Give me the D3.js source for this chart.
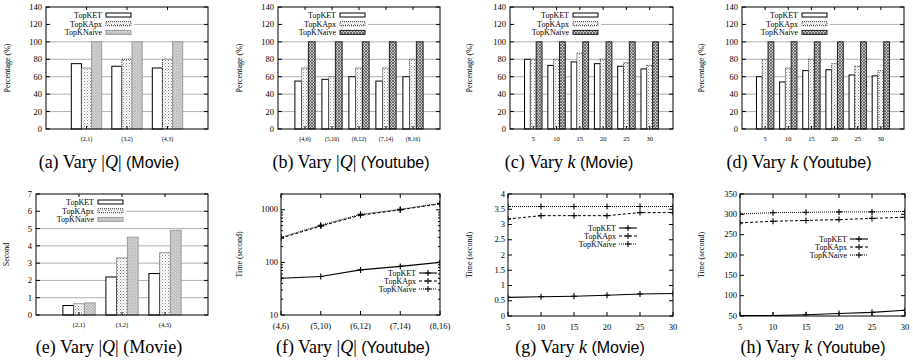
<!DOCTYPE html>
<html>
<head>
<meta charset="utf-8">
<script src="https://cdn.jsdelivr.net/npm/d3@7"></script>
<style>
  body { margin: 0; background: #fff; }
  svg { display: block; }
  text { font-family: "Liberation Serif", "Times New Roman", serif; fill: #000; }
  .tick-label { font-size: 8.5px; }
  .legend-text { font-size: 8px; }
  .axis-title { font-size: 8px; }
  .caption { font-size: 18px; }
</style>
</head>
<body>
<div id="chart"></div>
<script>
// ---- data ----
var seriesNames = ["TopKET", "TopKApx", "TopKNaive"];
var qMovie = ["(2,1)", "(3,2)", "(4,3)"];
var qYoutube = ["(4,6)", "(5,10)", "(6,12)", "(7,14)", "(8,16)"];
var kValues = [5, 10, 15, 20, 25, 30];

// (a) percentage, vary |Q|, Movie
var pctQMovieKET = [75, 72, 70];
var pctQMovieApx = [70, 80, 80];
var pctQMovieNaive = [100, 100, 100];
// (b) percentage, vary |Q|, Youtube
var pctQYoutubeKET = [55, 57, 60, 55, 60];
var pctQYoutubeApx = [70, 60, 70, 70, 80];
var pctQYoutubeNaive = [100, 100, 100, 100, 100];
// (c) percentage, vary k, Movie
var pctKMovieKET = [80, 73, 77, 75, 72, 69];
var pctKMovieApx = [80, 80, 87, 80, 76, 73];
var pctKMovieNaive = [100, 100, 100, 100, 100, 100];
// (d) percentage, vary k, Youtube
var pctKYoutubeKET = [60, 54, 67, 68, 62, 61];
var pctKYoutubeApx = [80, 70, 80, 75, 72, 67];
var pctKYoutubeNaive = [100, 100, 100, 100, 100, 100];
// (e) seconds, vary |Q|, Movie
var secQMovieKET = [0.55, 2.2, 2.4];
var secQMovieApx = [0.65, 3.3, 3.6];
var secQMovieNaive = [0.7, 4.5, 4.9];
// (f) time, vary |Q|, Youtube (log)
var timeQYoutubeKET = [50, 54, 72, 84, 100];
var timeQYoutubeApx = [290, 490, 790, 1000, 1300];
var timeQYoutubeNaive = [300, 510, 820, 1020, 1330];
// (g) time, vary k, Movie
var timeKMovieKET = [0.61, 0.63, 0.65, 0.68, 0.72, 0.74];
var timeKMovieApx = [3.18, 3.29, 3.29, 3.29, 3.39, 3.39];
var timeKMovieNaive = [3.59, 3.59, 3.59, 3.59, 3.59, 3.59];
// (h) time, vary k, Youtube
var timeKYoutubeKET = [51, 51, 53, 56, 59, 64];
var timeKYoutubeApx = [279, 283, 285, 287, 290, 293];
var timeKYoutubeNaive = [301, 304, 305, 306, 306, 307];

var pctTicks = [0, 20, 40, 60, 80, 100, 120, 140];
var secTicks = [0, 1, 2, 3, 4, 5, 6, 7];
var logTicks = [10, 100, 1000];
var movieKTicks = [0, 0.5, 1, 1.5, 2, 2.5, 3, 3.5, 4];
var youtubeKTicks = [50, 100, 150, 200, 250, 300, 350];

var svg = d3.select("#chart").append("svg")
  .attr("width", 913)
  .attr("height", 362)
  .attr("font-family", "'Liberation Serif', 'Times New Roman', serif");

// ---- fill patterns ----
var defs = svg.append("defs");

var apx = defs.append("pattern").attr("id", "apx")
  .attr("width", 3).attr("height", 3).attr("patternUnits", "userSpaceOnUse");
apx.append("rect").attr("width", 3).attr("height", 3).attr("fill", "#fff");
apx.append("rect").attr("x", 0).attr("y", 0).attr("width", 1).attr("height", 1).attr("fill", "#8a8a8a");
apx.append("rect").attr("x", 1.5).attr("y", 1.5).attr("width", 1).attr("height", 1).attr("fill", "#b0b0b0");

var naiveLight = defs.append("pattern").attr("id", "naiveLight")
  .attr("width", 3).attr("height", 3).attr("patternUnits", "userSpaceOnUse");
naiveLight.append("rect").attr("width", 3).attr("height", 3).attr("fill", "#d4d4d4");
naiveLight.append("path").attr("d", "M0,0L3,3M3,0L0,3").attr("stroke", "#b4b4b4").attr("stroke-width", 0.7);

var naiveDark = defs.append("pattern").attr("id", "naiveDark")
  .attr("width", 3).attr("height", 3).attr("patternUnits", "userSpaceOnUse");
naiveDark.append("rect").attr("width", 3).attr("height", 3).attr("fill", "#c8c8c8");
naiveDark.append("path").attr("d", "M0,0L3,3M3,0L0,3").attr("stroke", "#555").attr("stroke-width", 0.8);

var barStyles = [
  { fill: "#fff", stroke: "#000", dash: null },
  { fill: "url(#apx)", stroke: "#333", dash: "1,1" },
  { fill: null, stroke: "#888", dash: null }
];

function drawFrame(g, x0, x1, y0, y1) {
  g.append("rect")
    .attr("x", x0).attr("y", y0)
    .attr("width", x1 - x0).attr("height", y1 - y0)
    .attr("fill", "none").attr("stroke", "#000").attr("stroke-width", 1);
}

function caption(g, cx, cy, letter, vary, dataset, sans) {
  var t = g.append("text").attr("class", "caption")
    .attr("x", cx).attr("y", cy).attr("text-anchor", "middle");
  t.append("tspan").text("(" + letter + ") Vary ");
  if (vary === "Q") {
    t.append("tspan").text("|");
    t.append("tspan").attr("font-style", "italic").text("Q");
    t.append("tspan").text("| ");
  } else {
    t.append("tspan").attr("font-style", "italic").text("k");
    t.append("tspan").text(" ");
  }
  var ds = t.append("tspan").text("(" + dataset + ")");
  if (sans) ds.style("font-family", "'Liberation Sans', Arial, sans-serif").style("font-size", "16px");
}

function yTitle(g, x, y, label) {
  g.append("text").attr("class", "axis-title")
    .attr("transform", "translate(" + x + "," + y + ") rotate(-90)")
    .attr("text-anchor", "middle")
    .text(label);
}

function barPanel(opt) {
  var g = svg.append("g");
  var n = opt.categories.length;
  var x = d3.scaleLinear().domain([-1, n]).range([opt.x0, opt.x1]);
  var y = d3.scaleLinear().domain([opt.ticks[0], opt.ticks[opt.ticks.length - 1]]).range([opt.y1, opt.y0]);

  // grid lines
  g.selectAll(".grid").data(opt.ticks.slice(1, -1)).enter().append("line")
    .attr("x1", opt.x0).attr("x2", opt.x1)
    .attr("y1", function (d) { return y(d); }).attr("y2", function (d) { return y(d); })
    .attr("stroke", "#b0b0b0").attr("stroke-width", 1);

  // legend background covers the grid
  g.append("rect")
    .attr("x", opt.x0 + 1).attr("y", opt.y0 + 1)
    .attr("width", opt.legendX + 31 - opt.x0).attr("height", 29)
    .attr("fill", "#fff");

  // bars
  opt.values.forEach(function (vals, j) {
    var st = barStyles[j];
    g.selectAll(".bar" + j).data(vals).enter().append("rect")
      .attr("x", function (d, i) { return x(i + (j - 1.5) * 0.25); })
      .attr("width", x(0.25) - x(0))
      .attr("y", function (d) { return y(d); })
      .attr("height", function (d) { return y(opt.ticks[0]) - y(d); })
      .attr("fill", j === 2 ? "url(#" + opt.naivePattern + ")" : st.fill)
      .attr("stroke", j === 2 ? opt.naiveStroke : st.stroke)
      .attr("stroke-dasharray", st.dash)
      .attr("stroke-width", 1);
  });

  drawFrame(g, opt.x0, opt.x1, opt.y0, opt.y1);

  // y tick marks on both sides + labels
  opt.ticks.forEach(function (t) {
    g.append("line").attr("x1", opt.x0).attr("x2", opt.x0 + 4)
      .attr("y1", y(t)).attr("y2", y(t)).attr("stroke", "#000");
    g.append("line").attr("x1", opt.x1).attr("x2", opt.x1 - 4)
      .attr("y1", y(t)).attr("y2", y(t)).attr("stroke", "#000");
    g.append("text").attr("class", "tick-label")
      .attr("x", opt.x0 - 4).attr("y", y(t) + 3)
      .attr("text-anchor", "end").text(t);
  });

  // x tick marks + category labels
  opt.categories.forEach(function (c, i) {
    g.append("line").attr("x1", x(i)).attr("x2", x(i))
      .attr("y1", opt.y1).attr("y2", opt.y1 - 3).attr("stroke", "#000");
    g.append("line").attr("x1", x(i)).attr("x2", x(i))
      .attr("y1", opt.y0).attr("y2", opt.y0 + 3).attr("stroke", "#000");
    g.append("text").attr("class", "tick-label")
      .style("font-size", opt.xFont + "px")
      .attr("x", x(i)).attr("y", opt.y1 + 12)
      .attr("text-anchor", "middle").text(c);
  });

  // legend
  seriesNames.forEach(function (s, j) {
    var ly = opt.y0 + 8 + j * 8.7;
    var st = barStyles[j];
    g.append("text").attr("class", "legend-text")
      .attr("x", opt.legendX).attr("y", ly + 2.8)
      .attr("text-anchor", "end").text(s);
    g.append("rect")
      .attr("x", opt.legendX + 4).attr("y", ly - 2)
      .attr("width", 25).attr("height", 4)
      .attr("fill", j === 2 ? "url(#" + opt.naivePattern + ")" : st.fill)
      .attr("stroke", j === 2 ? opt.naiveStroke : st.stroke)
      .attr("stroke-dasharray", st.dash);
  });

  yTitle(g, opt.titleX, (opt.y0 + opt.y1) / 2, opt.yLabel);
  caption(g, opt.capX, opt.capY, opt.letter, opt.vary, opt.dataset, opt.sans);
}

var lineStyles = [
  { dash: null, width: 1.1 },
  { dash: "3,2", width: 1 },
  { dash: "1,1", width: 1 }
];

function linePanel(opt) {
  var g = svg.append("g");
  var x = opt.xPoint
    ? d3.scaleLinear().domain([0, opt.categories.length - 1]).range([opt.x0, opt.x1])
    : d3.scaleLinear().domain([opt.categories[0], opt.categories[opt.categories.length - 1]]).range([opt.x0, opt.x1]);
  var xVal = function (c, i) { return opt.xPoint ? x(i) : x(c); };
  var y = opt.log
    ? d3.scaleLog().domain(opt.yDomain).range([opt.y1, opt.y0])
    : d3.scaleLinear().domain(opt.yDomain).range([opt.y1, opt.y0]);

  var clip = "clip-" + opt.letter;
  g.append("clipPath").attr("id", clip).append("rect")
    .attr("x", opt.x0).attr("y", opt.y0).attr("width", opt.x1 - opt.x0).attr("height", opt.y1 - opt.y0);

  drawFrame(g, opt.x0, opt.x1, opt.y0, opt.y1);

  // y ticks mirrored
  opt.ticks.forEach(function (t) {
    g.append("line").attr("x1", opt.x0).attr("x2", opt.x0 + 4)
      .attr("y1", y(t)).attr("y2", y(t)).attr("stroke", "#000");
    g.append("line").attr("x1", opt.x1).attr("x2", opt.x1 - 4)
      .attr("y1", y(t)).attr("y2", y(t)).attr("stroke", "#000");
    g.append("text").attr("class", "tick-label")
      .attr("x", opt.x0 - 3).attr("y", y(t) + 2.5)
      .attr("text-anchor", "end").text(t);
  });
  if (opt.log) {
    var minor = [];
    for (var dec = 10; dec < opt.yDomain[1]; dec *= 10) {
      for (var m = 2; m <= 9; m++) if (dec * m <= opt.yDomain[1]) minor.push(dec * m);
    }
    minor.forEach(function (t) {
      g.append("line").attr("x1", opt.x0).attr("x2", opt.x0 + 2)
        .attr("y1", y(t)).attr("y2", y(t)).attr("stroke", "#000");
      g.append("line").attr("x1", opt.x1).attr("x2", opt.x1 - 2)
        .attr("y1", y(t)).attr("y2", y(t)).attr("stroke", "#000");
    });
  }

  // x ticks mirrored
  opt.categories.forEach(function (c, i) {
    var px = xVal(c, i);
    g.append("line").attr("x1", px).attr("x2", px)
      .attr("y1", opt.y1).attr("y2", opt.y1 - 4).attr("stroke", "#000");
    g.append("line").attr("x1", px).attr("x2", px)
      .attr("y1", opt.y0).attr("y2", opt.y0 + 4).attr("stroke", "#000");
    g.append("text").attr("class", "tick-label")
      .attr("x", px).attr("y", opt.y1 + 13.5)
      .attr("text-anchor", "middle").text(c);
  });

  // lines + "+" markers
  opt.values.forEach(function (vals, j) {
    var st = lineStyles[j];
    var line = d3.line()
      .x(function (d, i) { return xVal(opt.categories[i], i); })
      .y(function (d) { return y(d); });
    g.append("path").datum(vals)
      .attr("d", line)
      .attr("clip-path", "url(#" + clip + ")")
      .attr("fill", "none").attr("stroke", "#000")
      .attr("stroke-width", st.width)
      .attr("stroke-dasharray", st.dash);
    g.selectAll(".pt" + j).data(vals).enter().append("path")
      .attr("clip-path", "url(#" + clip + ")")
      .attr("d", function (d, i) {
        var px = xVal(opt.categories[i], i), py = y(d);
        return "M" + (px - 3) + "," + py + "H" + (px + 3) + "M" + px + "," + (py - 3) + "V" + (py + 3);
      })
      .attr("stroke", "#000").attr("stroke-width", 1.1);
  });

  // legend
  seriesNames.forEach(function (s, j) {
    var ly = opt.legendY + j * 8;
    var st = lineStyles[j];
    g.append("text").attr("class", "legend-text")
      .attr("x", opt.legendX).attr("y", ly + 2.8)
      .attr("text-anchor", "end").text(s);
    g.append("line")
      .attr("x1", opt.legendX + 3).attr("x2", opt.legendX + 21)
      .attr("y1", ly).attr("y2", ly)
      .attr("stroke", "#000").attr("stroke-width", st.width)
      .attr("stroke-dasharray", st.dash);
    var mx = opt.legendX + 12;
    g.append("path")
      .attr("d", "M" + (mx - 3) + "," + ly + "H" + (mx + 3) + "M" + mx + "," + (ly - 3) + "V" + (ly + 3))
      .attr("stroke", "#000").attr("stroke-width", 1.1);
  });

  yTitle(g, opt.titleX, (opt.y0 + opt.y1) / 2, "Time (second)");
  caption(g, opt.capX, opt.capY, opt.letter, opt.vary, opt.dataset, opt.sans);
}

// ---- top row: percentage bars ----
barPanel({ letter: "a", vary: "Q", dataset: "Movie", sans: true,
  categories: qMovie, values: [pctQMovieKET, pctQMovieApx, pctQMovieNaive],
  ticks: pctTicks, x0: 46, x1: 208, y0: 7, y1: 129, xFont: 6,
  legendX: 102, naivePattern: "naiveLight", naiveStroke: "#999",
  titleX: 10, yLabel: "Percentage (%)", capX: 109, capY: 168 });

barPanel({ letter: "b", vary: "Q", dataset: "Youtube", sans: true,
  categories: qYoutube, values: [pctQYoutubeKET, pctQYoutubeApx, pctQYoutubeNaive],
  ticks: pctTicks, x0: 278, x1: 440, y0: 7, y1: 129, xFont: 6,
  legendX: 336, naivePattern: "naiveDark", naiveStroke: "#222",
  titleX: 242, yLabel: "Percentage (%)", capX: 351, capY: 168 });

barPanel({ letter: "c", vary: "k", dataset: "Movie", sans: true,
  categories: kValues, values: [pctKMovieKET, pctKMovieApx, pctKMovieNaive],
  ticks: pctTicks, x0: 510, x1: 673, y0: 7, y1: 129, xFont: 6.5,
  legendX: 569, naivePattern: "naiveDark", naiveStroke: "#222",
  titleX: 472, yLabel: "Percentage (%)", capX: 569, capY: 168 });

barPanel({ letter: "d", vary: "k", dataset: "Youtube", sans: true,
  categories: kValues, values: [pctKYoutubeKET, pctKYoutubeApx, pctKYoutubeNaive],
  ticks: pctTicks, x0: 742, x1: 904, y0: 7, y1: 129, xFont: 6.5,
  legendX: 798, naivePattern: "naiveDark", naiveStroke: "#222",
  titleX: 704, yLabel: "Percentage (%)", capX: 799, capY: 168 });

// ---- bottom row ----
barPanel({ letter: "e", vary: "Q", dataset: "Movie", sans: false,
  categories: qMovie, values: [secQMovieKET, secQMovieApx, secQMovieNaive],
  ticks: secTicks, x0: 36, x1: 208, y0: 194, y1: 315, xFont: 6.5,
  legendX: 94, naivePattern: "naiveLight", naiveStroke: "#999",
  titleX: 9, yLabel: "Second", capX: 109, capY: 353 });

linePanel({ letter: "f", vary: "Q", dataset: "Youtube", sans: true, xPoint: true, log: true,
  categories: qYoutube, values: [timeQYoutubeKET, timeQYoutubeApx, timeQYoutubeNaive],
  ticks: logTicks, yDomain: [10, 2000], x0: 281, x1: 440, y0: 194, y1: 315,
  legendX: 416, legendY: 273, titleX: 242, capX: 353, capY: 353 });

linePanel({ letter: "g", vary: "k", dataset: "Movie", sans: true, xPoint: false, log: false,
  categories: kValues, values: [timeKMovieKET, timeKMovieApx, timeKMovieNaive],
  ticks: movieKTicks, yDomain: [0, 4], x0: 508, x1: 673, y0: 194, y1: 316,
  legendX: 616, legendY: 228, titleX: 472, capX: 580, capY: 353 });

linePanel({ letter: "h", vary: "k", dataset: "Youtube", sans: true, xPoint: false, log: false,
  categories: kValues, values: [timeKYoutubeKET, timeKYoutubeApx, timeKYoutubeNaive],
  ticks: youtubeKTicks, yDomain: [50, 350], x0: 740, x1: 905, y0: 194, y1: 316,
  legendX: 847, legendY: 239, titleX: 704, capX: 813, capY: 353 });
</script>
</body>
</html>
